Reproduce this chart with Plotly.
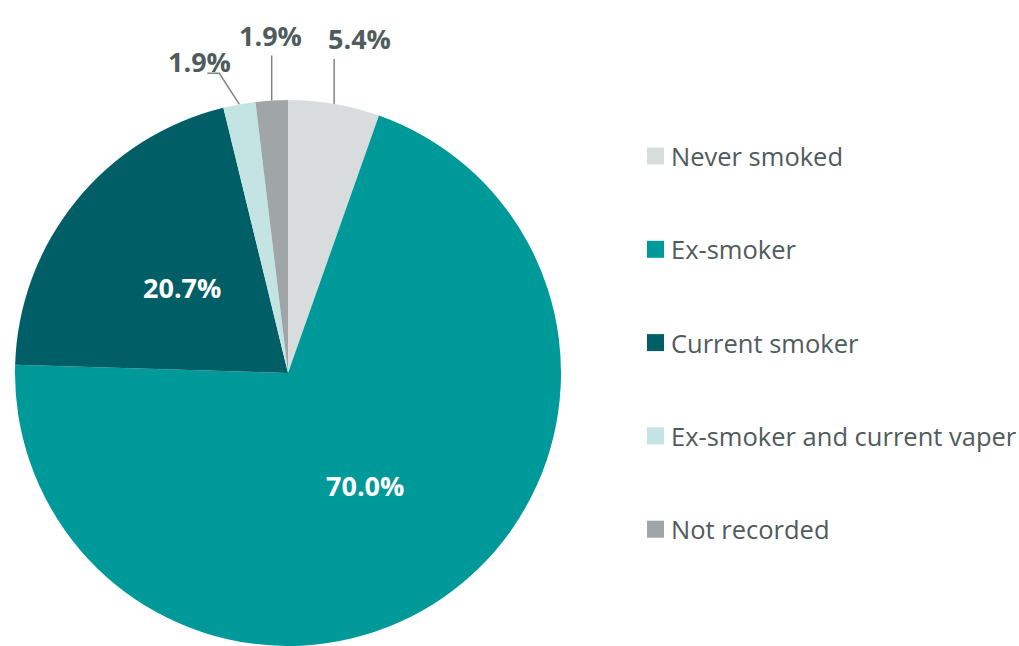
import math
import plotly.graph_objects as go

# Smoking status breakdown
categories = ["Never smoked", "Ex-smoker", "Current smoker",
              "Ex-smoker and current vaper", "Not recorded"]
values = [5.4, 70.0, 20.7, 1.9, 1.9]
colors = ["#D9DCDD", "#009999", "#005F66", "#C4E3E3", "#A0A5A8"]
label_inside = [False, True, True, False, False]

W, H = 1019, 646
CX, CY, R = 288, 373, 273          # pie centre / radius in pixels
TEXT_DARK = "#4F5B5C"
FONT = "Open Sans"

fig = go.Figure()

fig.add_trace(go.Pie(
    labels=categories, values=values, sort=False, direction="clockwise",
    rotation=0, marker=dict(colors=colors, line=dict(width=0)),
    textinfo="none", hoverinfo="label+percent", showlegend=False,
    domain=dict(x=[(CX - R) / W, (CX + R) / W],
                y=[(H - CY - R) / H, (H - CY + R) / H]),
))

total = sum(values)
annotations = []
cum = 0.0
for name, v, inside in zip(categories, values, label_inside):
    mid = (cum + v / 2) / total * 2 * math.pi
    cum += v
    sx, sy = math.sin(mid), -math.cos(mid)
    txt = f"{v:.1f}%"
    if inside:
        annotations.append(dict(x=CX + 0.5 * R * sx, y=CY + 0.5 * R * sy,
                                xref="x", yref="y", text=f"<b>{txt}</b>",
                                showarrow=False,
                                font=dict(family=FONT, size=27, color="white")))
        continue
    # leader line from the slice edge upwards
    ex, ey = CX + R * sx, CY + R * sy
    if sx < -0.1:
        xs = [ex, ex - 20, ex - 32]
        ys = [ey, ey - 31, ey - 31]
        tx, ty = xs[-1] - 8, ys[-1] - 12
    else:
        xs = [ex, ex]
        ys = [ey, ey - 45]
        tx = ex + (25 if sx > 0.05 else -1)
        ty = ys[-1] - 20
    fig.add_trace(go.Scatter(x=xs, y=ys, mode="lines", hoverinfo="skip",
                             line=dict(color="#7F8485", width=1.5),
                             showlegend=False))
    annotations.append(dict(x=tx, y=ty, xref="x", yref="y",
                            text=f"<b>{txt}</b>", showarrow=False,
                            font=dict(family=FONT, size=27, color=TEXT_DARK)))

# legend drawn as square markers with labels
LEG_X, LEG_Y0, LEG_DY = 655.5, 156, 93.3
for i, (name, c) in enumerate(zip(categories, colors)):
    y = LEG_Y0 + i * LEG_DY
    fig.add_trace(go.Scatter(x=[LEG_X], y=[y], mode="markers",
                             marker=dict(symbol="square", size=17, color=c),
                             hoverinfo="skip", showlegend=False))
    annotations.append(dict(x=LEG_X + 13, y=y, xref="x", yref="y",
                            text=name, showarrow=False, xanchor="left",
                            font=dict(family=FONT, size=25.5, color=TEXT_DARK)))

fig.update_layout(
    width=W, height=H, margin=dict(l=0, r=0, t=0, b=0),
    paper_bgcolor="white", plot_bgcolor="rgba(0,0,0,0)",
    xaxis=dict(range=[0, W], visible=False, fixedrange=True, domain=[0, 1]),
    yaxis=dict(range=[H, 0], visible=False, fixedrange=True, domain=[0, 1]),
    annotations=annotations, showlegend=False,
)

fig.write_html("out.html")
